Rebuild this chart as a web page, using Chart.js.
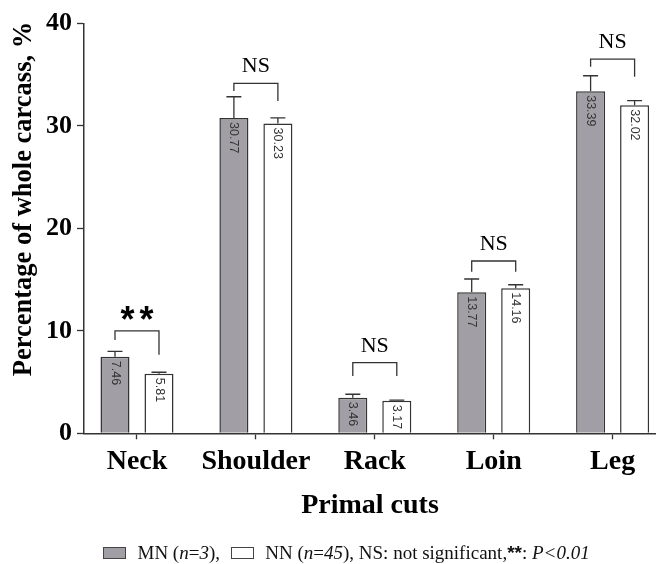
<!DOCTYPE html>
<html lang="en">
  <head>
    <meta charset="UTF-8" />
    <title>Primal cuts - percentage of whole carcass</title>
    <script src="https://cdn.jsdelivr.net/npm/chart.js"></script>
    <style>
      body { margin: 0; background: #fff; }
      #wrap { position: relative; width: 656px; height: 564px; overflow: hidden; }
      #legend {
        position: absolute; left: 103px; top: 542px;
        font-family: 'Liberation Serif', serif; font-size: 19px; line-height: 22px;
        color: #111; white-space: nowrap;
      }
      .sw { display: inline-block; width: 21px; height: 10px; border: 1px solid #444; vertical-align: baseline; }
    </style>
  </head>

  <body>
    <div id="wrap">
      <canvas id="myChart" width="656" height="564"></canvas>
      <div id="legend">
        <span class="sw" style="background:#a19fa5; margin-right:11.5px"></span>MN (<i>n</i>=<i>3</i>),
        <span class="sw" style="background:#fff; margin-left:6px; margin-right:11.5px"></span>NN (<i>n</i>=<i>45</i>), NS: not significant,<b style="font-family:'Liberation Sans'">**</b>: <i>P&lt;0.01</i>
      </div>
    </div>

    <script>
      const categories = ['Neck', 'Shoulder', 'Rack', 'Loin', 'Leg'];
      const mnValues = [7.46, 30.77, 3.46, 13.77, 33.39];
      const nnValues = [5.81, 30.23, 3.17, 14.16, 32.02];
      // mean + SD, only the upper whisker is drawn
      const mnErr = [0.54, 2.08, 0.35, 1.29, 1.51];
      const nnErr = [0.15, 0.55, 0.06, 0.34, 0.45];
      // significance brackets (in % units)
      const sigLabels = ['**', 'NS', 'NS', 'NS', 'NS'];
      const bracketTop = [10.0, 34.16, 6.89, 16.82, 36.53];
      const bracketLegMN = [9.11, 33.41, 5.59, 15.77, 35.78];
      const bracketLegNN = [7.67, 32.44, 5.59, 15.77, 34.81];

      const serifBold = (size) => ({ family: "'Liberation Serif', serif", size: size, weight: 'bold' });

      const annotate = {
        id: 'annotate',
        afterDatasetsDraw(chart) {
          const { ctx } = chart;
          const y = chart.scales.y;
          const mn = chart.getDatasetMeta(0).data;
          const nn = chart.getDatasetMeta(1).data;
          ctx.save();
          ctx.strokeStyle = '#333';
          ctx.lineWidth = 1.3;

          [[mn, mnValues, mnErr], [nn, nnValues, nnErr]].forEach(([bars, vals, errs]) => {
            bars.forEach((bar, i) => {
              const top = y.getPixelForValue(vals[i] + errs[i]);
              ctx.beginPath();
              ctx.moveTo(bar.x, bar.y);
              ctx.lineTo(bar.x, top);
              ctx.moveTo(bar.x - 7.5, top);
              ctx.lineTo(bar.x + 7.5, top);
              ctx.stroke();

              // value written down the bar
              ctx.save();
              ctx.translate(bar.x, bar.y + 4);
              ctx.rotate(Math.PI / 2);
              ctx.fillStyle = '#333';
              ctx.font = "12.5px 'Liberation Sans'";
              ctx.textAlign = 'left';
              ctx.textBaseline = 'middle';
              ctx.fillText(vals[i].toFixed(2), 0, 0);
              ctx.restore();
            });
          });

          categories.forEach((c, i) => {
            const xl = mn[i].x, xr = nn[i].x;
            const yt = y.getPixelForValue(bracketTop[i]);
            ctx.beginPath();
            ctx.moveTo(xl, y.getPixelForValue(bracketLegMN[i]));
            ctx.lineTo(xl, yt);
            ctx.lineTo(xr, yt);
            ctx.lineTo(xr, y.getPixelForValue(bracketLegNN[i]));
            ctx.stroke();

            const stars = sigLabels[i] === '**';
            ctx.font = stars ? "bold 36px 'Liberation Sans'" : "22px 'Liberation Serif'";
            ctx.letterSpacing = stars ? '5px' : '0px';
            ctx.fillStyle = '#000';
            ctx.textAlign = 'center';
            ctx.textBaseline = 'alphabetic';
            const m = ctx.measureText(sigLabels[i]);
            ctx.fillText(sigLabels[i], (xl + xr) / 2 + (stars ? 2.5 : 0), yt - 11 - m.actualBoundingBoxDescent);
          });
          ctx.letterSpacing = '0px';

          // y axis title, sits a little above the middle of the axis
          ctx.save();
          ctx.translate(31, 199);
          ctx.rotate(-Math.PI / 2);
          ctx.font = "bold 26.5px 'Liberation Serif'";
          ctx.fillStyle = '#000';
          ctx.textAlign = 'center';
          ctx.textBaseline = 'alphabetic';
          ctx.fillText('Percentage of whole carcass, %', 0, 0);
          ctx.restore();

          ctx.restore();
        },
      };

      const ctx = document.getElementById('myChart').getContext('2d');
      const myChart = new Chart(ctx, {
        type: 'bar',
        data: {
          datasets: [
            {
              label: 'MN',
              data: categories.map((c, i) => ({ x: i, y: mnValues[i] })),
              backgroundColor: '#a19fa5',
              borderColor: '#333',
              borderWidth: 1.5,
              categoryPercentage: 0.74,
              barPercentage: 0.66,
            },
            {
              label: 'NN',
              data: categories.map((c, i) => ({ x: i, y: nnValues[i] })),
              backgroundColor: '#fff',
              borderColor: '#333',
              borderWidth: 1.5,
              categoryPercentage: 0.74,
              barPercentage: 0.66,
            },
          ],
        },
        options: {
          responsive: false,
          animation: false,
          events: [],
          layout: { padding: { top: 23.5, left: 0, right: 0, bottom: 41 } },
          plugins: { legend: { display: false }, tooltip: { enabled: false } },
          scales: {
            x: {
              type: 'linear',
              min: -0.4457,
              max: 4.365,
              offset: false,
              grid: { drawOnChartArea: false, tickLength: 6, tickColor: '#333', tickWidth: 1.3, offset: false },
              border: { color: '#333', width: 1.5 },
              ticks: {
                stepSize: 1,
                includeBounds: false,
                autoSkip: false,
                maxRotation: 0,
                padding: 6,
                color: '#000',
                font: serifBold(28),
                callback: (v) => categories[v] ?? '',
              },
              title: { display: true, text: 'Primal cuts', color: '#000', font: serifBold(28), padding: 0 },
              afterFit: (s) => { s.height = 89.7; },
            },
            y: {
              min: 0,
              max: 40,
              grid: { drawOnChartArea: false, tickLength: 7, tickColor: '#333', tickWidth: 1.3 },
              border: { color: '#333', width: 1.5 },
              ticks: { stepSize: 10, padding: 5, color: '#000', font: serifBold(26) },
              afterFit: (s) => { s.width = 84; },
            },
          },
        },
        plugins: [annotate],
      });
    </script>
  </body>
</html>
